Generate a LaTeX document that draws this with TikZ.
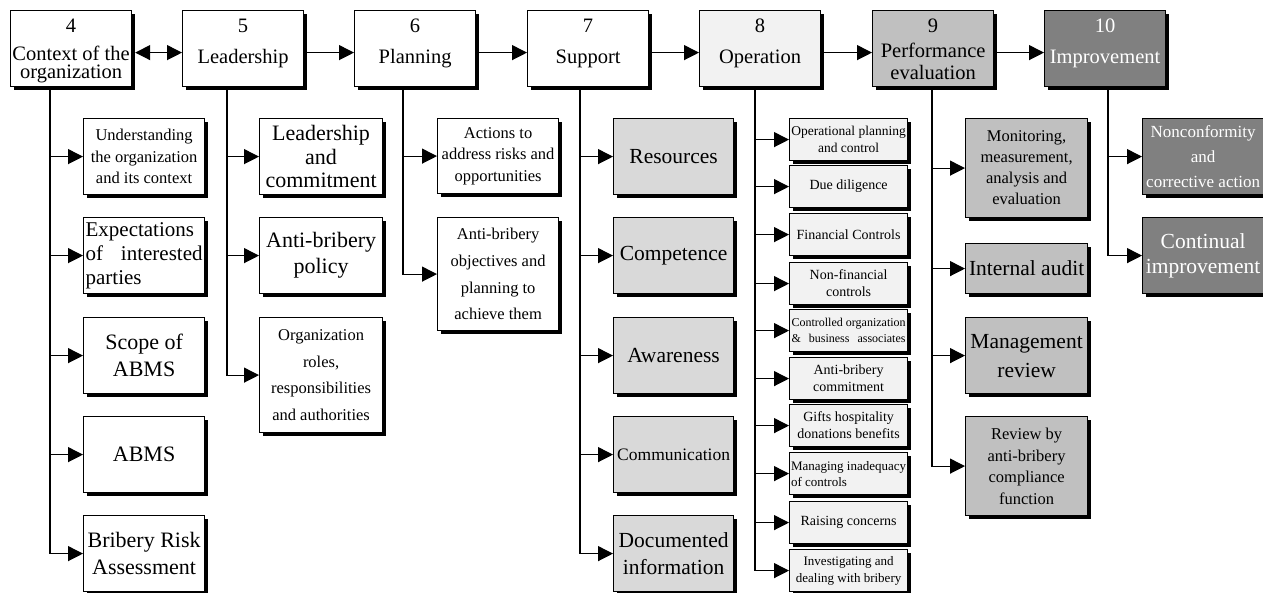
\documentclass[tikz,border=0pt]{standalone}
\usepackage{fontspec}
\setmainfont{Liberation Serif}
\usetikzlibrary{arrows.meta,shadows}
\definecolor{gsev}{HTML}{D9D9D9}
\definecolor{geig}{HTML}{F2F2F2}
\definecolor{gnin}{HTML}{C0C0C0}
\definecolor{gten}{HTML}{808080}
\newcommand{\setfs}[2]{\fontsize{#1}{#2}\selectfont}
\newcommand{\hdtxt}[3]{\parbox[c][76pt][t]{121pt}{\centering\rule{0pt}{22pt}#1\\[#2]#3}}
\begin{document}
\begin{tikzpicture}[x=1pt,y=-1pt,
  box/.style={draw=black, line width=1.2pt, rectangle, anchor=north west,
    drop shadow={shadow xshift=3pt,shadow yshift=-3pt,fill=black,opacity=1},
    align=center, inner xsep=1.5pt, inner ysep=0pt},
  hdr/.style={box, inner sep=0pt, font=\setfs{20.5}{18}},
  wbox/.style={box, fill=white},
  sbox/.style={box, fill=gsev, minimum width=120pt, minimum height=76pt},
  obox/.style={box, fill=geig, minimum width=118pt, minimum height=42pt, inner xsep=1pt, font=\setfs{14}{17}},
  pbox/.style={box, fill=gnin, minimum width=122pt},
  ibox/.style={box, fill=gten, text=white, minimum width=121pt, minimum height=76pt},
  arr/.style={line width=1.2pt, -{Triangle[length=15pt,width=15pt]}},
  arrtwo/.style={line width=1.2pt, {Triangle[length=15pt,width=15pt]}-{Triangle[length=15pt,width=15pt]}}
]
\useasboundingbox (0,0) rectangle (1263,592);

% ---------- header row ----------
\node[hdr, fill=white] (h4) at (10,10) {\hdtxt{4}{10pt}{Context of the\\organization}};
\node[hdr, fill=white] (h5) at (182,10) {\hdtxt{5}{13pt}{Leadership}};
\node[hdr, fill=white] (h6) at (354,10) {\hdtxt{6}{13pt}{Planning}};
\node[hdr, fill=white] (h7) at (527,10) {\hdtxt{7}{13pt}{Support}};
\node[hdr, fill=geig] (h8) at (699,10) {\hdtxt{8}{13pt}{Operation}};
\node[hdr, fill=gnin] (h9) at (872,10) {\hdtxt{9}{7pt}{Performance\\[4pt]evaluation}};
\node[hdr, fill=gten, text=white] (h10) at (1044,10) {\hdtxt{10}{13pt}{Improvement}};

\draw[arrtwo] ([xshift=3pt,yshift=-4pt]h4.east) -- ([yshift=-4pt]h5.west);
\draw[arr] ([xshift=3pt,yshift=-4pt]h5.east) -- ([yshift=-4pt]h6.west);
\draw[arr] ([xshift=3pt,yshift=-4pt]h6.east) -- ([yshift=-4pt]h7.west);
\draw[arr] ([xshift=3pt,yshift=-4pt]h7.east) -- ([yshift=-4pt]h8.west);
\draw[arr] ([xshift=3pt,yshift=-4pt]h8.east) -- ([yshift=-4pt]h9.west);
\draw[arr] ([xshift=3pt,yshift=-4pt]h9.east) -- ([yshift=-4pt]h10.west);

% trunk origins
\path (h4.south west) ++(40,0) coordinate (t4);
\path (h5.south west) ++(45,0) coordinate (t5);
\path (h6.south west) ++(49,0) coordinate (t6);
\path (h7.south west) ++(53,0) coordinate (t7);
\path (h8.south west) ++(56,0) coordinate (t8);
\path (h9.south west) ++(60,0) coordinate (t9);
\path (h10.south west) ++(64,0) coordinate (t10);

% ---------- column 4 ----------
\node[wbox, minimum width=121pt, minimum height=76pt, font=\setfs{16.5}{21.7}] (c41) at (83,118) {Understanding\\the organization\\and its context};
\node[wbox, minimum width=121pt, minimum height=76pt, font=\setfs{21}{24}, align=left] (c42) at (83,217) {Expectations\\\makebox[117pt][s]{of interested}\\parties};
\node[wbox, minimum width=121pt, minimum height=76pt, font=\setfs{22}{27}] (c43) at (83,317) {Scope of\\ABMS};
\node[wbox, minimum width=121pt, minimum height=76pt, font=\setfs{22}{27}] (c44) at (83,416) {ABMS};
\node[wbox, minimum width=121pt, minimum height=76pt, font=\setfs{22}{27}] (c45) at (83,515) {Bribery Risk\\Assessment};
\foreach \c in {c41,c42,c43,c44,c45} \draw[arr] (t4) |- (\c.west);

% ---------- column 5 ----------
\node[wbox, minimum width=123pt, minimum height=76pt, font=\setfs{22}{23.5}] (c51) at (259,118) {Leadership\\and\\commitment};
\node[wbox, minimum width=123pt, minimum height=76pt, font=\setfs{22}{26}] (c52) at (259,217) {Anti-bribery\\policy};
\node[wbox, minimum width=123pt, minimum height=115pt, font=\setfs{16.5}{26.7}] (c53) at (259,317) {Organization\\roles,\\responsibilities\\and authorities};
\foreach \c in {c51,c52,c53} \draw[arr] (t5) |- (\c.west);

% ---------- column 6 ----------
\node[wbox, minimum width=121pt, minimum height=75pt, font=\setfs{16.5}{21.7}] (c61) at (437,118) {Actions to\\address risks and\\opportunities};
\node[wbox, minimum width=121pt, minimum height=113pt, font=\setfs{16.5}{26.7}] (c62) at (437,217) {Anti-bribery\\objectives and\\planning to\\achieve them};
\foreach \c in {c61,c62} \draw[arr] (t6) |- (\c.west);

% ---------- column 7 ----------
\node[sbox, font=\setfs{21.5}{27}] (c71) at (613,118) {Resources};
\node[sbox, font=\setfs{21.5}{27}] (c72) at (613,217) {Competence};
\node[sbox, font=\setfs{21.5}{27}] (c73) at (613,317) {Awareness};
\node[sbox, font=\setfs{17.5}{22}] (c74) at (613,416) {Communication};
\node[sbox, font=\setfs{21.5}{27}] (c75) at (613,515) {Documented\\information};
\foreach \c in {c71,c72,c73,c74,c75} \draw[arr] (t7) |- (\c.west);

% ---------- column 8 ----------
\node[obox, font=\setfs{13.5}{17}] (c81) at (789,118) {Operational planning\\and control};
\node[obox] (c82) at (789,165) {Due diligence};
\node[obox] (c83) at (789,213) {Financial Controls};
\node[obox] (c84) at (789,262) {Non-financial\\controls};
\node[obox, font=\setfs{12}{16}, align=left] (c85) at (789,309) {Controlled organization\\\makebox[114pt][s]{\& business associates}};
\node[obox] (c86) at (789,357) {Anti-bribery\\commitment};
\node[obox] (c87) at (789,404) {Gifts hospitality\\donations benefits};
\node[obox, font=\setfs{13}{16}, align=left] (c88) at (789,452) {Managing inadequacy\\of controls};
\node[obox] (c89) at (789,501) {Raising concerns};
\node[obox, font=\setfs{13}{17}] (c810) at (789,549) {Investigating and\\dealing with bribery};
\foreach \c in {c81,c82,c83,c84,c85,c86,c87,c88,c89,c810} \draw[arr] (t8) |- (\c.west);

% ---------- column 9 ----------
\node[pbox, minimum height=99pt, font=\setfs{16.5}{21}] (c91) at (965,118) {Monitoring,\\measurement,\\analysis and\\evaluation};
\node[pbox, minimum height=50pt, font=\setfs{21.5}{25}] (c92) at (965,243) {Internal audit};
\node[pbox, minimum height=76pt, font=\setfs{21.5}{29}] (c93) at (965,317) {Management\\review};
\node[pbox, minimum height=99pt, font=\setfs{16.5}{21.5}] (c94) at (965,416) {Review by\\anti-bribery\\compliance\\function};
\foreach \c in {c91,c92,c93,c94} \draw[arr] (t9) |- (\c.west);

% ---------- column 10 ----------
\node[ibox, font=\setfs{17}{25}] (c101) at (1142,118) {Nonconformity\\and\\corrective action};
\node[ibox, font=\setfs{21.5}{25}] (c102) at (1142,217) {Continual\\improvement};
\foreach \c in {c101,c102} \draw[arr] (t10) |- (\c.west);
\end{tikzpicture}
\end{document}
